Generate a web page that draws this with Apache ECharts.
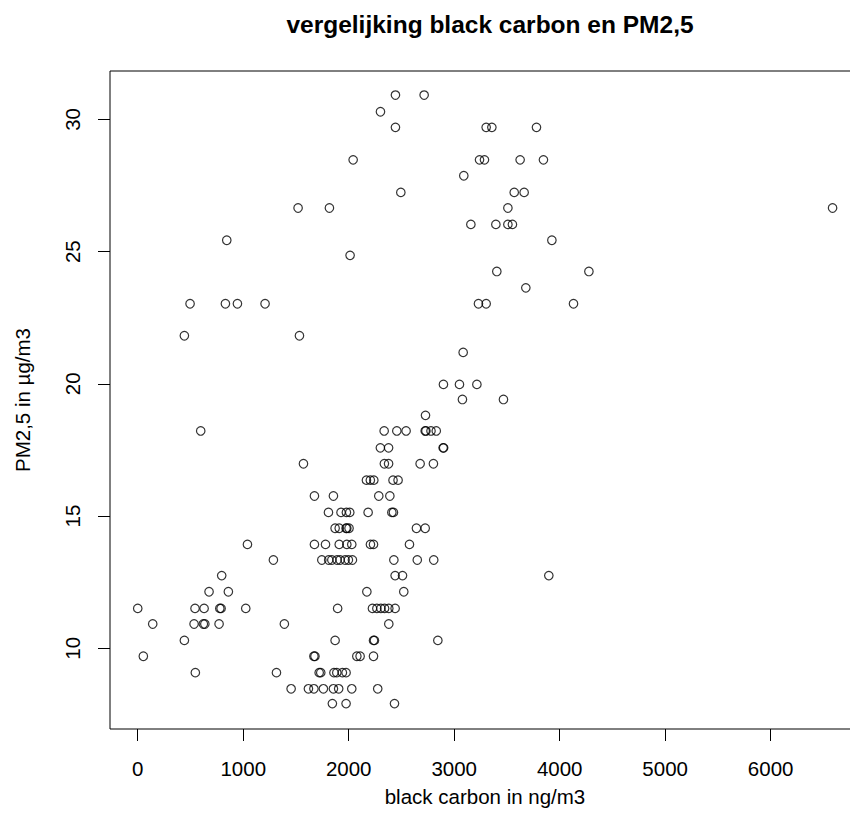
<!DOCTYPE html>
<html><head><meta charset="utf-8">
<script src="https://cdn.jsdelivr.net/npm/echarts@6/dist/echarts.min.js"></script>
<style>html,body{margin:0;padding:0;background:#fff}#c{width:850px;height:834px}</style>
</head><body><div id="c"></div>
<script>
// black carbon (ng/m3)
const blackCarbon = [
  2443, 2715,
  2301,
  2443, 3303, 3357, 3780,
  2042, 3240, 3287, 3625, 3846,
  3091,
  2494, 3569, 3663,
  1520, 1817, 3509, 6587,
  3158, 3395, 3509, 3552,
  844, 3926,
  2013,
  3404, 4277,
  3679,
  496, 831, 945, 1207, 3230, 3303, 4131,
  442, 1533,
  3085,
  2898, 3050, 3215,
  3078, 3467,
  2728,
  597, 2336, 2456, 2544, 2725, 2732, 2780, 2830,
  2300, 2378, 2895, 2900,
  1571, 2338, 2378, 2677, 2803,
  2168, 2205, 2238, 2420, 2468,
  1675, 1855, 2285, 2390,
  1808, 1927, 1978, 2010, 2184, 2409, 2424,
  1871, 1910, 1975, 1982, 2003, 2642, 2725,
  1040, 1675, 1780, 1910, 1982, 2029, 2206, 2235, 2576,
  1286, 1745, 1810, 1840, 1890, 1918, 1966, 1997, 2035, 2428, 2650, 2806,
  796, 2440, 2510, 3897,
  676, 859, 2172, 2522,
  0, 543, 629, 778, 790, 1024, 1895, 2225, 2267, 2305, 2340, 2380, 2440,
  142, 534, 622, 636, 771, 1390, 2380,
  442, 1871, 2235, 2244, 2845,
  53, 1670, 1680, 2077, 2108, 2235,
  546, 1315, 1720, 1735, 1860, 1887, 1940, 1975,
  1454, 1618, 1670, 1760, 1855, 1905, 2029, 2275,
  1845, 1975, 2434
];
// PM2,5 (µg/m3)
const pm25 = [
  30.92, 30.92,
  30.29,
  29.70, 29.70, 29.70, 29.70,
  28.47, 28.47, 28.47, 28.47, 28.47,
  27.87,
  27.24, 27.24, 27.24,
  26.65, 26.65, 26.65, 26.65,
  26.03, 26.03, 26.03, 26.03,
  25.43, 25.43,
  24.86,
  24.25, 24.25,
  23.63,
  23.03, 23.03, 23.03, 23.03, 23.03, 23.03, 23.03,
  21.82, 21.82,
  21.19,
  19.98, 19.98, 19.98,
  19.41, 19.41,
  18.81,
  18.22, 18.22, 18.22, 18.22, 18.22, 18.22, 18.22, 18.22,
  17.58, 17.58, 17.58, 17.58,
  16.98, 16.98, 16.98, 16.98, 16.98,
  16.36, 16.36, 16.36, 16.36, 16.36,
  15.76, 15.76, 15.76, 15.76,
  15.14, 15.14, 15.14, 15.14, 15.14, 15.14, 15.14,
  14.54, 14.54, 14.54, 14.54, 14.54, 14.54, 14.54,
  13.93, 13.93, 13.93, 13.93, 13.93, 13.93, 13.93, 13.93, 13.93,
  13.34, 13.34, 13.34, 13.34, 13.34, 13.34, 13.34, 13.34, 13.34, 13.34, 13.34, 13.34,
  12.75, 12.75, 12.75, 12.75,
  12.14, 12.14, 12.14, 12.14,
  11.51, 11.51, 11.51, 11.51, 11.51, 11.51, 11.51, 11.51, 11.51, 11.51, 11.51, 11.51, 11.51,
  10.92, 10.92, 10.92, 10.92, 10.92, 10.92, 10.92,
  10.30, 10.30, 10.30, 10.30, 10.30,
  9.70, 9.70, 9.70, 9.70, 9.70, 9.70,
  9.08, 9.08, 9.08, 9.08, 9.08, 9.08, 9.08, 9.08,
  8.47, 8.47, 8.47, 8.47, 8.47, 8.47, 8.47, 8.47,
  7.91, 7.91, 7.91
];
const xTicks = [0, 1000, 2000, 3000, 4000, 5000, 6000];
const yTicks = [10, 15, 20, 25, 30];
const titleText = 'vergelijking black carbon en PM2,5';
const xName = 'black carbon in ng/m3';
const yName = 'PM2,5 in µg/m3';

const points = blackCarbon.map((x, i) => [x, pm25[i]]);
const FONT = '"Liberation Sans", Arial, Helvetica, sans-serif';

const chart = echarts.init(document.getElementById('c'), null, {renderer: 'svg'});
chart.setOption({
  animation: false,
  backgroundColor: '#fff',
  title: {
    text: titleText,
    left: 485, top: 7, textAlign: 'center',
    textStyle: {fontFamily: FONT, fontWeight: 'bold', fontSize: 24.5, color: '#000'}
  },
  grid: {
    show: true, borderColor: '#000', borderWidth: 1, backgroundColor: 'transparent',
    left: 110, top: 71, width: 750, height: 658, containLabel: false, outerBoundsMode: 'none'
  },
  xAxis: {
    type: 'value', min: -263, max: 6847,
    name: xName, nameLocation: 'middle', nameGap: 57,
    nameTextStyle: {fontFamily: FONT, fontSize: 20.5, color: '#000'},
    axisLine: {show: false, onZero: false},
    axisTick: {show: true, inside: false, length: 12, customValues: xTicks, lineStyle: {color: '#000', width: 1}},
    axisLabel: {customValues: xTicks, margin: 29, fontFamily: FONT, fontSize: 20.5, color: '#000',
      formatter: v => String(v)},
    splitLine: {show: false}
  },
  yAxis: {
    type: 'value', min: 6.95, max: 31.83,
    name: yName, nameLocation: 'middle', nameGap: 77, nameRotate: 90,
    nameTextStyle: {fontFamily: FONT, fontSize: 20.5, color: '#000'},
    axisLine: {show: false, onZero: false},
    axisTick: {show: true, inside: false, length: 12, customValues: yTicks, lineStyle: {color: '#000', width: 1}},
    axisLabel: {customValues: yTicks, rotate: 90, margin: 27, fontFamily: FONT, fontSize: 20.5, color: '#000',
      formatter: v => String(v)},
    splitLine: {show: false}
  },
  series: [{
    type: 'scatter',
    data: points,
    symbol: 'circle',
    symbolSize: 8.5,
    itemStyle: {color: 'transparent', borderColor: '#000', borderWidth: 1.2},
    emphasis: {disabled: true}
  }]
});
</script>
</body></html>
